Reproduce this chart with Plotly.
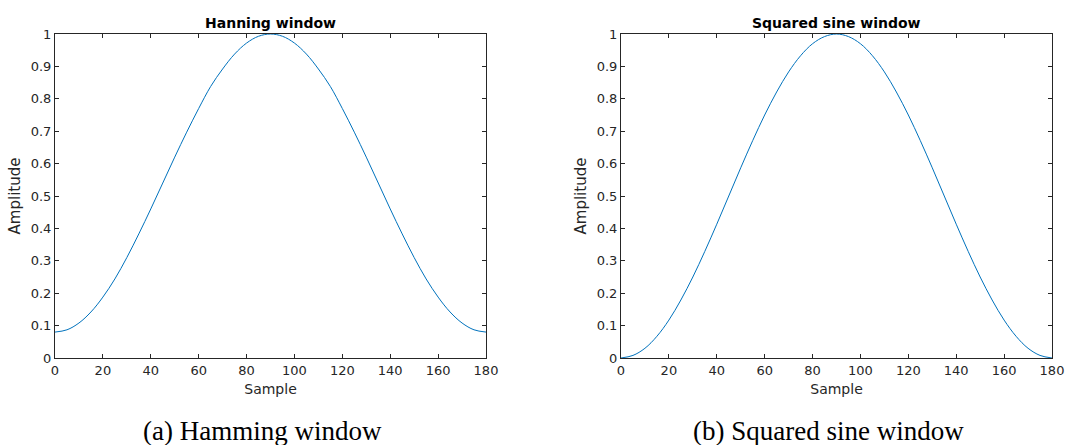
import plotly.graph_objects as go

# Sample positions (every 5 samples)
samples = list(range(0, 181, 5))

# Hamming window amplitudes
hamming = [0.080, 0.087, 0.108, 0.142, 0.188, 0.244, 0.310, 0.383, 0.460, 0.540,
           0.620, 0.697, 0.770, 0.838, 0.892, 0.938, 0.972, 0.993, 1.000,
           0.993, 0.972, 0.938, 0.892, 0.838, 0.770, 0.697, 0.620, 0.540,
           0.460, 0.383, 0.310, 0.244, 0.188, 0.142, 0.108, 0.087, 0.080]

# Squared sine window amplitudes
sq_sine = [0.000, 0.008, 0.030, 0.067, 0.117, 0.179, 0.250, 0.329, 0.413, 0.500,
           0.587, 0.671, 0.750, 0.821, 0.883, 0.933, 0.970, 0.992, 1.000,
           0.992, 0.970, 0.933, 0.883, 0.821, 0.750, 0.671, 0.587, 0.500,
           0.413, 0.329, 0.250, 0.179, 0.117, 0.067, 0.030, 0.008, 0.000]

titles = ["Hanning window", "Squared sine window"]
captions = ["(a) Hamming window", "(b) Squared sine window"]
x_ticks = list(range(0, 181, 20))
y_ticks = [round(0.1 * i, 1) for i in range(11)]
y_tick_text = ["0", "0.1", "0.2", "0.3", "0.4", "0.5", "0.6", "0.7", "0.8", "0.9", "1"]

W, H = 1066, 445
LINE = "#0072BD"
AX = "#262626"
FONT = "DejaVu Sans"

x_domains = [[55 / W, 486 / W], [621 / W, 1052 / W]]
y_domain = [1 - 358 / H, 1 - 34 / H]

fig = go.Figure()
fig.add_trace(go.Scatter(x=samples, y=hamming, mode="lines", line=dict(color=LINE, width=1, shape="spline"),
                         xaxis="x", yaxis="y", showlegend=False))
fig.add_trace(go.Scatter(x=samples, y=sq_sine, mode="lines", line=dict(color=LINE, width=1, shape="spline"),
                         xaxis="x2", yaxis="y2", showlegend=False))

axis_common = dict(showline=True, linecolor=AX, linewidth=1, mirror="ticks", ticks="inside",
                   ticklen=4, tickcolor=AX, showgrid=False, zeroline=False, automargin=False,
                   tickfont=dict(family=FONT, size=13, color=AX))

layout = dict(width=W, height=H, margin=dict(l=0, r=0, t=0, b=0, autoexpand=False),
              paper_bgcolor="white", plot_bgcolor="white", showlegend=False)

for i in range(2):
    sx = "" if i == 0 else "2"
    layout["xaxis" + sx] = dict(axis_common, domain=x_domains[i], range=[0, 180], tickvals=x_ticks,
                                anchor="y" + sx,
                                title=dict(text="Sample", standoff=7, font=dict(family=FONT, size=14, color=AX)))
    layout["yaxis" + sx] = dict(axis_common, domain=y_domain, range=[0, 1], tickvals=y_ticks,
                                ticktext=y_tick_text, anchor="x" + sx,
                                title=dict(text="Amplitude", standoff=6, font=dict(family=FONT, size=15, color=AX)))

annotations = []
for i in range(2):
    cx = (x_domains[i][0] + x_domains[i][1]) / 2
    annotations.append(dict(text="<b>" + titles[i] + "</b>", x=cx, y=1 - 22.5 / H, xref="paper", yref="paper",
                            showarrow=False, xanchor="center", yanchor="middle",
                            font=dict(family=FONT, size=14, color="black")))
    annotations.append(dict(text=captions[i], x=cx - 8 / W, y=1 - 431 / H, xref="paper", yref="paper",
                            showarrow=False, xanchor="center", yanchor="middle",
                            font=dict(family="Liberation Serif", size=27, color="black")))
layout["annotations"] = annotations

fig.update_layout(**layout)
fig.write_html("out.html")
